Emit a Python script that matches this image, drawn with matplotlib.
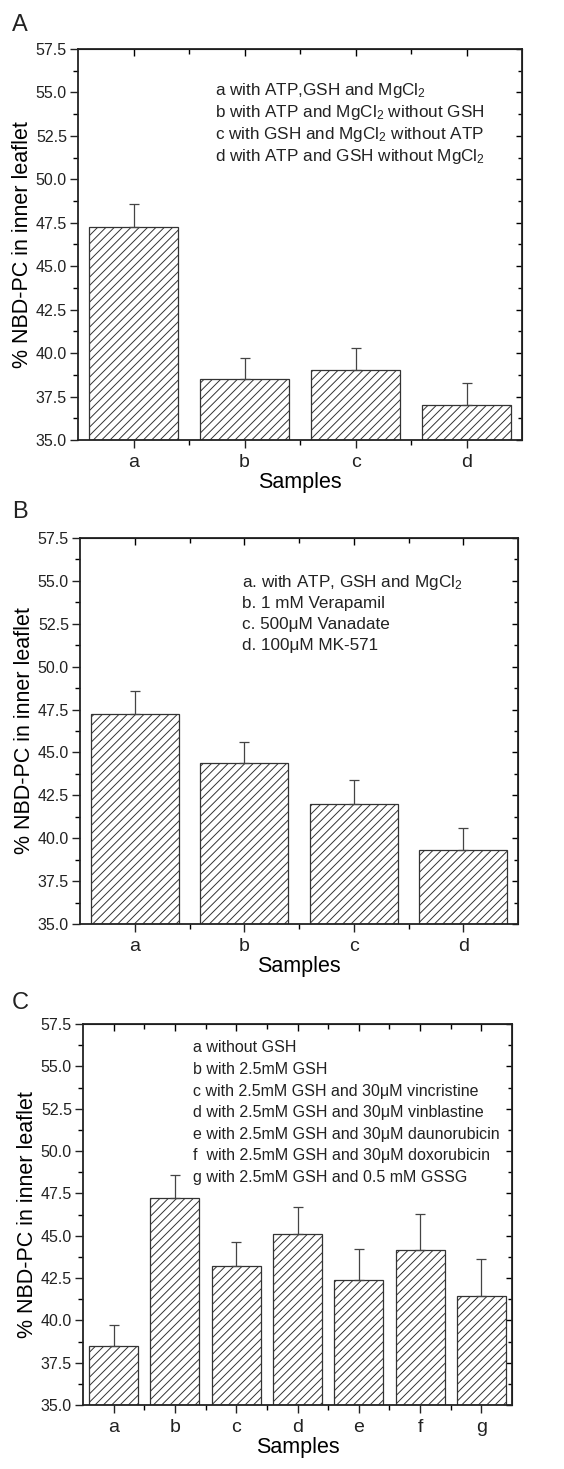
import numpy as np
import matplotlib
matplotlib.use('Agg')
import matplotlib.pyplot as plt

plt.rcParams['font.family'] = ['Liberation Sans', 'DejaVu Sans']
plt.rcParams['mathtext.fontset'] = 'custom'
plt.rcParams['mathtext.rm'] = 'Liberation Sans'
plt.rcParams['mathtext.it'] = 'Liberation Sans:italic'
plt.rcParams['hatch.linewidth'] = 0.7
plt.rcParams['hatch.color'] = '#333333'

# panel A
cats_a = ['a', 'b', 'c', 'd']
vals_a = [47.25, 38.5, 39.0, 37.0]
errs_a = [1.33, 1.24, 1.29, 1.26]
notes_a = ['a with ATP,GSH and MgCl$_2$',
           'b with ATP and MgCl$_2$ without GSH',
           'c with GSH and MgCl$_2$ without ATP',
           'd with ATP and GSH without MgCl$_2$']

# panel B
cats_b = ['a', 'b', 'c', 'd']
vals_b = [47.25, 44.4, 42.02, 39.3]
errs_b = [1.33, 1.23, 1.39, 1.3]
notes_b = ['a. with ATP, GSH and MgCl$_2$',
           'b. 1 mM Verapamil',
           'c. 500μM Vanadate',
           'd. 100μM MK-571']

# panel C
cats_c = ['a', 'b', 'c', 'd', 'e', 'f', 'g']
vals_c = [38.5, 47.22, 43.18, 45.09, 42.38, 44.16, 41.44]
errs_c = [1.22, 1.35, 1.44, 1.6, 1.86, 2.13, 2.18]
notes_c = ['a without GSH',
           'b with 2.5mM GSH',
           'c with 2.5mM GSH and 30μM vincristine',
           'd with 2.5mM GSH and 30μM vinblastine',
           'e with 2.5mM GSH and 30μM daunorubicin',
           'f  with 2.5mM GSH and 30μM doxorubicin',
           'g with 2.5mM GSH and 0.5 mM GSSG']

W, H = 564, 1469
fig = plt.figure(figsize=(W / 100, H / 100), dpi=100)


def px_axes(left, top, right, bottom):
    return fig.add_axes([left / W, 1 - bottom / H, (right - left) / W, (bottom - top) / H])


def panel(ax, cats, vals, errs, notes, note_x, note_y0, note_dy, fs_note):
    n = len(cats)
    x = np.arange(1, n + 1)
    ax.bar(x, np.array(vals) - 35, bottom=35, width=0.8, color='white',
           edgecolor='#333333', linewidth=0.9, hatch='////', zorder=2)
    ax.errorbar(x, vals, yerr=[np.zeros(n), errs], fmt='none', ecolor='#444444',
                elinewidth=0.9, capsize=3.5, capthick=0.9, zorder=3)
    ax.set_xlim(0.5, n + 0.5)
    ax.set_ylim(35, 57.5)
    ax.set_xticks(x)
    ax.set_xticklabels(cats)
    ax.set_xticks(np.arange(1.5, n, 1.0), minor=True)
    ax.set_yticks(np.arange(35, 57.6, 2.5))
    ax.set_yticklabels(['%.1f' % v for v in np.arange(35, 57.6, 2.5)])
    ax.set_yticks(np.arange(36.25, 57.5, 2.5), minor=True)
    ax.tick_params(axis='both', which='major', direction='out', length=6, width=1,
                   labelsize=11.5, colors='#222222', pad=2)
    ax.tick_params(axis='x', which='major', labelsize=14, pad=4)
    ax.tick_params(axis='both', which='minor', direction='out', length=3.5, width=1)
    for s in ax.spines.values():
        s.set_linewidth(1.3)
        s.set_color('#222222')
    ax.set_xlabel('Samples', fontsize=15.5, labelpad=1)
    ax.set_ylabel('% NBD-PC in inner leaflet', fontsize=15.5, labelpad=2)

    top = ax.secondary_xaxis('top')
    top.set_xticks(x)
    top.set_xticks(np.arange(1.5, n, 1.0), minor=True)
    top.tick_params(which='both', direction='in', length=5, width=1, labeltop=False)
    top.tick_params(which='minor', length=3.5)
    right = ax.secondary_yaxis('right')
    right.set_yticks(np.arange(35, 57.6, 2.5))
    right.set_yticks(np.arange(36.25, 57.5, 2.5), minor=True)
    right.tick_params(which='both', direction='in', length=4, width=1, labelright=False)
    right.tick_params(which='minor', length=3)

    for i, t in enumerate(notes):
        ax.text(note_x, note_y0 - i * note_dy, t, transform=ax.transAxes,
                fontsize=fs_note, color='#222222', va='center', ha='left')


ax_a = px_axes(78, 49, 522, 440)
panel(ax_a, cats_a, vals_a, errs_a, notes_a, (215 - 78) / 444, 1 - (90 - 49) / 391, 22 / 391, 12.3)
ax_b = px_axes(80, 538, 518, 924)
panel(ax_b, cats_b, vals_b, errs_b, notes_b, (242 - 80) / 438, 1 - (582 - 538) / 386, 21.3 / 386, 12.3)
ax_c = px_axes(83, 1024, 512, 1405)
panel(ax_c, cats_c, vals_c, errs_c, notes_c, (193 - 83) / 429, 1 - (1048 - 1024) / 381, 21.55 / 381, 11.5)

for lab, yy in [('A', 25), ('B', 512), ('C', 1003)]:
    fig.text(20 / W, 1 - yy / H, lab, fontsize=17, ha='center', va='center', color='#222222')

fig.savefig('out.png', dpi=100, facecolor='white')
